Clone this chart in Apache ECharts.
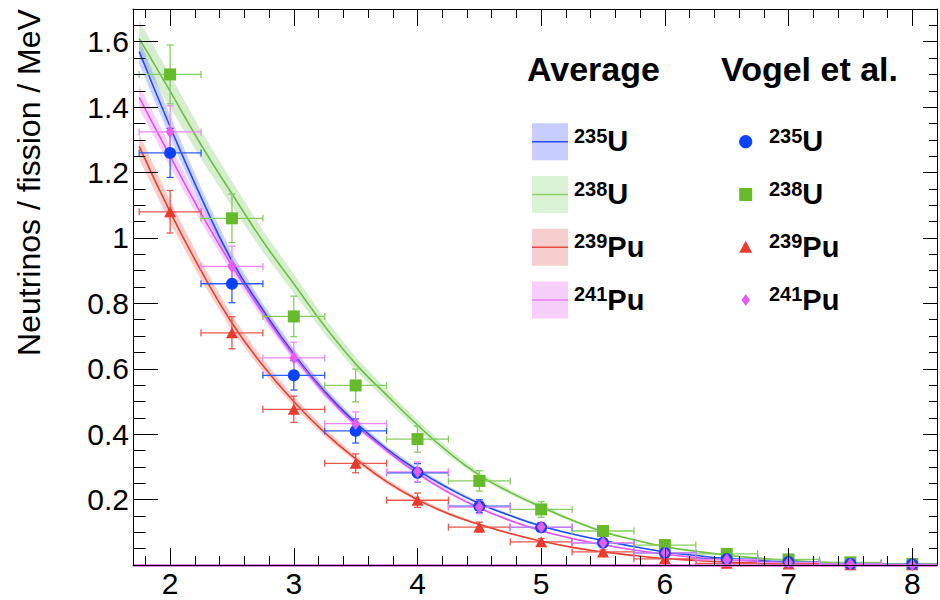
<!DOCTYPE html>
<html><head><meta charset="utf-8">
<script src="https://cdn.jsdelivr.net/npm/echarts@6/dist/echarts.min.js"></script>
<style>html,body{margin:0;padding:0;background:#fff}#chart{width:940px;height:600px}</style>
</head><body><div id="chart"></div>
<script>
// ---------------- data ----------------
const vogelEnergy = [2, 2.5, 3, 3.5, 4, 4.5, 5, 5.5, 6, 6.5, 7, 7.5, 8];
const binHalfWidth = 0.25;
const vogelU235    = [1.26, 0.86, 0.58, 0.41, 0.282, 0.18, 0.115, 0.068, 0.037, 0.018, 0.009, 0.004, 0.002];
const vogelU235Err = [0.075, 0.058, 0.045, 0.037, 0.028, 0.02, 0.013, 0.009, 0.006, 0.004, 0.003, 0.002, 0.001];
const vogelU238    = [1.50, 1.06, 0.76, 0.549, 0.385, 0.257, 0.170, 0.104, 0.061, 0.034, 0.017, 0.008, 0.003];
const vogelU238Err = [0.09, 0.074, 0.062, 0.05, 0.04, 0.031, 0.024, 0.016, 0.01, 0.006, 0.004, 0.002, 0.001];
const vogelPu239    = [1.08, 0.71, 0.476, 0.311, 0.198, 0.116, 0.071, 0.040, 0.019, 0.005, 0.003, 0.001, 0.0005];
const vogelPu239Err = [0.065, 0.049, 0.04, 0.029, 0.022, 0.015, 0.01, 0.006, 0.004, 0.002, 0.001, 0.001, 0.0005];
const vogelPu241    = [1.324, 0.913, 0.633, 0.432, 0.285, 0.177, 0.116, 0.068, 0.037, 0.016, 0.008, 0.003, 0.001];
const vogelPu241Err = [0.08, 0.062, 0.048, 0.036, 0.03, 0.02, 0.013, 0.008, 0.005, 0.003, 0.002, 0.001, 0.0005];

const avgEnergy = [1.75, 2, 2.25, 2.5, 2.75, 3, 3.25, 3.5, 3.75, 4, 4.25, 4.5, 4.75, 5, 5.25, 5.5, 5.75, 6, 6.25, 6.5, 6.75, 7, 7.25, 7.5, 7.75, 8, 8.2];
const avgU235  = [1.57, 1.34, 1.125, 0.93, 0.78, 0.645, 0.53, 0.435, 0.355, 0.29, 0.235, 0.188, 0.151, 0.119, 0.095, 0.075, 0.056, 0.040, 0.029, 0.020, 0.014, 0.009, 0.006, 0.004, 0.003, 0.002, 0.001];
const avgU238  = [1.61, 1.449, 1.285, 1.135, 0.99, 0.86, 0.73, 0.615, 0.52, 0.428, 0.345, 0.275, 0.222, 0.178, 0.137, 0.102, 0.077, 0.056, 0.042, 0.030, 0.021, 0.014, 0.009, 0.006, 0.004, 0.002, 0.001];
const avgPu239 = [1.28, 1.08, 0.90, 0.74, 0.61, 0.50, 0.405, 0.325, 0.255, 0.20, 0.157, 0.124, 0.096, 0.073, 0.054, 0.040, 0.029, 0.020, 0.014, 0.009, 0.006, 0.004, 0.003, 0.002, 0.001, 0.0008, 0.0005];
const avgPu241 = [1.43, 1.25, 1.075, 0.915, 0.77, 0.64, 0.525, 0.428, 0.35, 0.28, 0.222, 0.174, 0.136, 0.105, 0.081, 0.062, 0.046, 0.033, 0.023, 0.016, 0.011, 0.007, 0.004, 0.003, 0.002, 0.001, 0.0005];
const avgRelUnc = [0.025, 0.034, 0.031, 0.025];   // relative half-width of the uncertainty bands

const isotopeMass   = ['235', '238', '239', '241'];
const isotopeSymbol = ['U', 'U', 'Pu', 'Pu'];
const yAxisTitle = 'Neutrinos / fission / MeV';
const legendTitles = ['Average', 'Vogel et al.'];

// ---------------- style ----------------
const FONT = "'Liberation Sans', Arial, Helvetica, sans-serif";
const lineColor   = ['#1e4cff', '#6cc040', '#e8402f', '#e050ee'];
const bandColor   = ['rgba(95,115,255,0.32)', 'rgba(120,200,95,0.30)', 'rgba(232,70,60,0.27)', 'rgba(225,90,240,0.28)'];
const swatchColor = ['#c8cdff', '#dcf2d6', '#f7cece', '#f5cefa'];
const swatchLine  = ['#2b4cff', '#8fd06a', '#ea4a40', '#e87cf0'];
const markColor   = ['#0b42ff', '#66bb2a', '#ea3a2e', '#e55cf2'];
const errColor    = ['#2f5cff', '#86cc60', '#e8564c', '#ee86fa'];
const markSymbol  = ['circle', 'rect', 'triangle', 'diamond'];
const markSize    = [12, 12, [12, 11], [9, 13]];

const avgSets   = [avgU235, avgU238, avgPu239, avgPu241];
const vogelSets = [vogelU235, vogelU238, vogelPu239, vogelPu241];
const vogelErrs = [vogelU235Err, vogelU238Err, vogelPu239Err, vogelPu241Err];

function errorBarRenderer(color) {
  return function (params, api) {
    const x = api.value(0), y = api.value(1), ex = api.value(2), ey = api.value(3);
    const l = api.coord([x - ex, y]), r = api.coord([x + ex, y]);
    const t = api.coord([x, y + ey]), b = api.coord([x, y - ey]);
    const cap = 3.5;
    const st = { stroke: color, lineWidth: 1.3, fill: null };
    return { type: 'group', children: [
      { type: 'line', shape: { x1: l[0], y1: l[1], x2: r[0], y2: r[1] }, style: st },
      { type: 'line', shape: { x1: l[0], y1: l[1] - cap, x2: l[0], y2: l[1] + cap }, style: st },
      { type: 'line', shape: { x1: r[0], y1: r[1] - cap, x2: r[0], y2: r[1] + cap }, style: st },
      { type: 'line', shape: { x1: t[0], y1: t[1], x2: b[0], y2: b[1] }, style: st },
      { type: 'line', shape: { x1: t[0] - cap, y1: t[1], x2: t[0] + cap, y2: t[1] }, style: st },
      { type: 'line', shape: { x1: b[0] - cap, y1: b[1], x2: b[0] + cap, y2: b[1] }, style: st }
    ]};
  };
}

function bandRenderer(i) {
  return function (params, api) {
    const u = avgRelUnc[i], v = avgSets[i];
    const upper = avgEnergy.map((e, j) => api.coord([e, v[j] * (1 + u)]));
    const lower = avgEnergy.map((e, j) => api.coord([e, v[j] * (1 - u)])).reverse();
    return { type: 'polygon', shape: { points: upper.concat(lower) }, style: { fill: bandColor[i], stroke: null } };
  };
}

const series = [];
const curveOrder = [1, 2, 0, 3];
// bands
curveOrder.forEach(i => {
  series.push({
    type: 'custom', z: 1, silent: true, clip: true,
    renderItem: bandRenderer(i), encode: { x: 0, y: 1 },
    data: [[avgEnergy[0], avgSets[i][0]]]
  });
});
// central curves
curveOrder.forEach(i => {
  const s = {
    type: 'line', smooth: true, symbol: 'none', silent: true, z: 2,
    name: 'Average ' + isotopeMass[i] + isotopeSymbol[i],
    lineStyle: { color: lineColor[i], width: 1.6 },
    data: avgEnergy.map((e, j) => [e, avgSets[i][j]])
  };
  if (i === 3) {
    s.markLine = { silent: true, symbol: 'none', label: { show: false },
      lineStyle: { color: '#e060f0', width: 2.5, type: 'solid' }, data: [{ yAxis: 0 }] };
  }
  series.push(s);
});
// Vogel points with error bars
curveOrder.forEach(i => {
  series.push({
    type: 'custom', z: 3, silent: true, clip: true,
    renderItem: errorBarRenderer(errColor[i]),
    encode: { x: 0, y: 1 },
    data: vogelEnergy.map((e, j) => [e, vogelSets[i][j], binHalfWidth, vogelErrs[i][j]])
  });
});
curveOrder.forEach(i => {
  series.push({
    type: 'scatter', z: 4, silent: true,
    name: 'Vogel ' + isotopeMass[i] + isotopeSymbol[i],
    symbol: markSymbol[i], symbolSize: markSize[i],
    itemStyle: { color: markColor[i], opacity: 1 },
    data: vogelEnergy.map((e, j) => [e, vogelSets[i][j]])
  });
});

// ---------------- legend (graphic) ----------------
const graphic = [];
const legendLeftX = 527, legendRightX = 721, headY = 68.5;
const rowY0 = 141.7, rowStep = 52.8;
const LZ = 100;
graphic.push({ type: 'text', z: LZ, x: legendLeftX, y: headY, style: { text: legendTitles[0], fontSize: 34, fontWeight: 'bold', fontFamily: FONT, fill: '#000', align: 'left', verticalAlign: 'middle' } });
graphic.push({ type: 'text', z: LZ, x: legendRightX, y: headY, style: { text: legendTitles[1], fontSize: 34, fontWeight: 'bold', fontFamily: FONT, fill: '#000', align: 'left', verticalAlign: 'middle' } });
const rich = {
  s: { fontSize: 20, fontWeight: 'bold', fontFamily: FONT, fill: '#000', lineHeight: 8, verticalAlign: 'top' },
  m: { fontSize: 29, fontWeight: 'bold', fontFamily: FONT, fill: '#000', lineHeight: 30, verticalAlign: 'bottom' }
};
[0, 1, 2, 3].forEach(i => {
  const cy = rowY0 + i * rowStep;
  const label = '{s|' + isotopeMass[i] + '}{m|' + isotopeSymbol[i] + '}';
  graphic.push({ type: 'rect', z: LZ, shape: { x: 532, y: cy - 18.5, width: 36, height: 37 }, style: { fill: swatchColor[i] } });
  graphic.push({ type: 'line', z: LZ, shape: { x1: 532, y1: cy, x2: 568, y2: cy }, style: { stroke: swatchLine[i], lineWidth: 1.5 } });
  graphic.push({ type: 'text', z: LZ, x: 574, y: cy - 1, style: { text: label, rich: rich, fill: '#000', fontFamily: FONT, fontWeight: 'bold', align: 'left', verticalAlign: 'middle' } });
  const mx = 745.7;
  let mk;
  if (i === 0) mk = { type: 'circle', shape: { cx: mx, cy: cy, r: 6.6 }, style: { fill: markColor[i] } };
  else if (i === 1) mk = { type: 'rect', shape: { x: mx - 6.5, y: cy - 6.5, width: 13, height: 13 }, style: { fill: markColor[i] } };
  else if (i === 2) mk = { type: 'polygon', shape: { points: [[mx, cy - 6.5], [mx + 6.5, cy + 5.5], [mx - 6.5, cy + 5.5]] }, style: { fill: markColor[i] } };
  else mk = { type: 'polygon', shape: { points: [[mx, cy - 6], [mx + 4.2, cy], [mx, cy + 6], [mx - 4.2, cy]] }, style: { fill: markColor[i] } };
  mk.z = LZ;
  graphic.push(mk);
  graphic.push({ type: 'text', z: LZ, x: 769, y: cy - 1, style: { text: label, rich: rich, fill: '#000', fontFamily: FONT, fontWeight: 'bold', align: 'left', verticalAlign: 'middle' } });
});

// ---------------- axes ----------------
const X_MIN = 1.7, X_MAX = 8.2, Y_MIN = 0, Y_MAX = 1.7;
const axisLineStyle = { color: '#000', width: 1 };
function near(v, step) { return Math.abs(v / step - Math.round(v / step)) < 1e-6; }

const option = {
  animation: false,
  backgroundColor: '#fff',
  grid: { left: 133, right: 3, top: 9, bottom: 35, containLabel: false },
  xAxis: [
    { type: 'value', position: 'bottom', min: X_MIN, max: X_MAX, splitNumber: 6, z: 10,
      axisLine: { show: true, onZero: false, lineStyle: axisLineStyle },
      axisTick: { show: true, inside: true, length: 17, lineStyle: axisLineStyle },
      minorTick: { show: true, splitNumber: 5, length: 9, lineStyle: axisLineStyle },
      splitLine: { show: false },
      axisLabel: { show: true, margin: 3, fontSize: 30, fontFamily: FONT, color: '#000',
        formatter: v => near(v, 1) ? String(Math.round(v)) : '' } },
    { type: 'value', position: 'top', min: X_MIN, max: X_MAX, splitNumber: 6, z: 10,
      axisLine: { show: true, onZero: false, lineStyle: axisLineStyle },
      axisTick: { show: true, inside: true, length: 17, lineStyle: axisLineStyle },
      minorTick: { show: true, splitNumber: 5, length: 9, lineStyle: axisLineStyle },
      splitLine: { show: false }, axisLabel: { show: false } }
  ],
  yAxis: [
    { type: 'value', position: 'left', min: Y_MIN, max: Y_MAX, interval: 0.2, z: 10,
      name: yAxisTitle, nameLocation: 'middle', nameRotate: 90, nameGap: 88,
      nameTextStyle: { fontSize: 32, fontFamily: FONT, color: '#000', padding: [0, 0, 0, 209] },
      axisLine: { show: true, onZero: false, lineStyle: axisLineStyle },
      axisTick: { show: true, inside: true, length: 25, lineStyle: axisLineStyle },
      minorTick: { show: true, splitNumber: 4, length: 12.5, lineStyle: axisLineStyle },
      splitLine: { show: false },
      axisLabel: { show: true, margin: 4, fontSize: 30, fontFamily: FONT, color: '#000',
        formatter: v => (v > 1e-9 && near(v, 0.2)) ? String(Math.round(v * 10) / 10) : '' } },
    { type: 'value', position: 'right', min: Y_MIN, max: Y_MAX, interval: 0.2, z: 10,
      axisLine: { show: true, onZero: false, lineStyle: axisLineStyle },
      axisTick: { show: true, inside: true, length: 14, lineStyle: axisLineStyle },
      minorTick: { show: true, splitNumber: 4, length: 8, lineStyle: axisLineStyle },
      splitLine: { show: false }, axisLabel: { show: false } }
  ],
  graphic: graphic,
  series: series
};

const chart = echarts.init(document.getElementById('chart'), null, { renderer: 'svg' });
chart.setOption(option);
</script>
</body></html>
